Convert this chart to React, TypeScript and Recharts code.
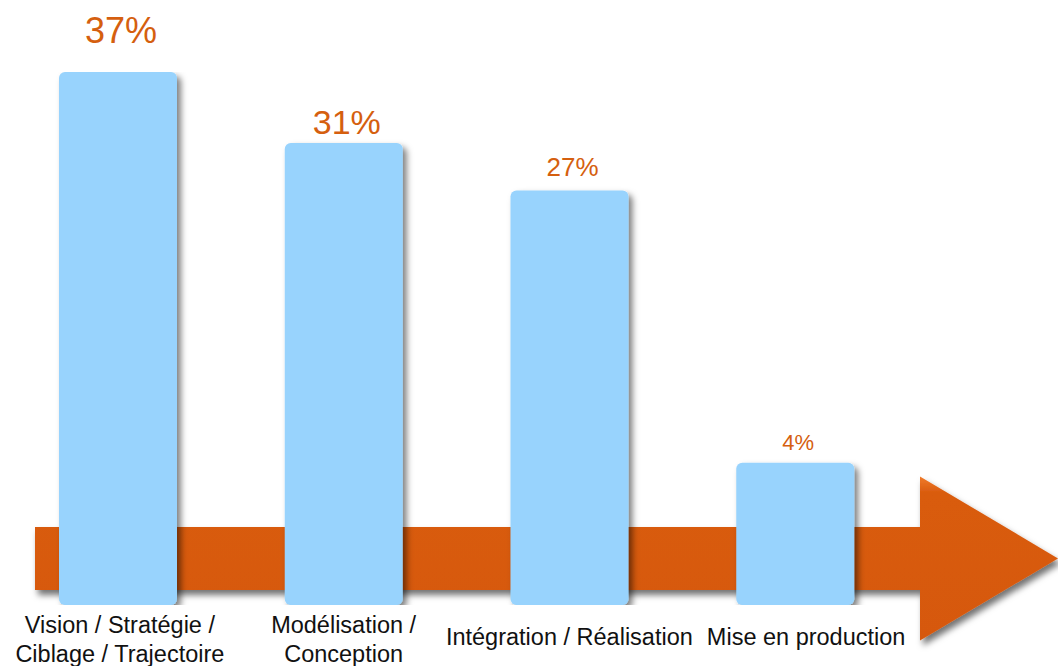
import { ComposedChart, Bar, XAxis, YAxis, LabelList, ReferenceArea, Rectangle } from "recharts";

// phases of the project, in order along the arrow
const categories = [
  "Vision / Stratégie /\nCiblage / Trajectoire",
  "Modélisation /\nConception",
  "Intégration / Réalisation",
  "Mise en production",
];
const shares = [37, 31, 27, 4];

// the bars in the picture start below zero, so the axis floor is negative
const AXIS_FLOOR = -8;
const AXIS_TOP = 37;
// arrow shaft band, in axis units
const ARROW_LOW = -6.73;
const ARROW_HIGH = -1.41;

// label look per bar (font size, gap above the bar)
const labelSizes = [36, 34, 26, 22];
const labelGaps = [29, 9, 14, 13];
// small horizontal nudge of the category labels
const tickShift = [2, 0, 0, 11];

const ORANGE = "#d55f0f";
const BLUE = "#98d3fd";
const FONT = "'Liberation Sans', Arial, sans-serif";

const data = categories.map((name, i) => ({ name, value: shares[i] }));

function ArrowShape(props: any) {
  const { x, y, width, height } = props;
  const mid = y + height / 2;
  const left = x + 30;
  const headX = x + width + 12;
  const tipX = x + width + 150;
  const half = 82;
  const pts = [
    [left, y],
    [headX, y],
    [headX, mid - half],
    [tipX, mid],
    [headX, mid + half],
    [headX, y + height],
    [left, y + height],
  ]
    .map((p) => p.join(","))
    .join(" ");
  return <polygon points={pts} fill="url(#arrowFill)" filter="url(#arrowShadow)" />;
}

function BarShape(props: any) {
  return <Rectangle {...props} fill={BLUE} radius={6} filter="url(#barShadow)" />;
}

function ValueLabel(props: any) {
  const { x, y, width, value, index } = props;
  return (
    <text
      x={x + width / 2 + 3}
      y={y - labelGaps[index]}
      textAnchor="middle"
      fontSize={labelSizes[index]}
      fontFamily={FONT}
      fill={ORANGE}
    >
      {value}%
    </text>
  );
}

function CategoryTick(props: any) {
  const { x, y, payload, index } = props;
  const lines = String(payload.value).split("\n");
  const lineH = 29;
  const first = lines.length === 1 ? 40 : 28;
  const cx = x + (tickShift[index] || 0);
  return (
    <text x={cx} y={y} textAnchor="middle" fontSize={23.5} fontFamily={FONT} fill="#111">
      {lines.map((l, i) => (
        <tspan key={i} x={cx} y={y + first + i * lineH}>
          {l}
        </tspan>
      ))}
    </text>
  );
}

export default function App() {
  return (
    <div style={{ position: "absolute", left: 0, top: 0, background: "#fff" }}>
      <ComposedChart
        width={1058}
        height={666}
        data={data}
        margin={{ top: 72, right: 150, left: 5, bottom: 0 }}
      >
        <defs>
          <linearGradient id="arrowFill" x1="0" y1="0" x2="0" y2="1">
            <stop offset="0%" stopColor="#f07b2b" />
            <stop offset="10%" stopColor="#d95b0e" />
            <stop offset="100%" stopColor="#d6590c" />
          </linearGradient>
          <filter id="arrowShadow" x="-5%" y="-20%" width="115%" height="150%">
            <feDropShadow dx="3" dy="5" stdDeviation="3" floodColor="#000" floodOpacity="0.55" />
          </filter>
          <filter id="barShadow" x="-10%" y="-10%" width="130%" height="130%">
            <feDropShadow dx="4" dy="4" stdDeviation="3" floodColor="#000" floodOpacity="0.5" />
          </filter>
        </defs>
        <XAxis
          dataKey="name"
          axisLine={false}
          tickLine={false}
          tickSize={0}
          tickMargin={0}
          height={61}
          interval={0}
          tick={<CategoryTick />}
        />
        <YAxis hide type="number" domain={[AXIS_FLOOR, AXIS_TOP]} allowDataOverflow />
        <ReferenceArea
          y1={ARROW_LOW}
          y2={ARROW_HIGH}
          ifOverflow="visible"
          shape={<ArrowShape />}
        />
        <Bar
          dataKey={(d: any) => [AXIS_FLOOR, d.value]}
          barSize={118}
          shape={<BarShape />}
          isAnimationActive={false}
        >
          <LabelList dataKey="value" content={<ValueLabel />} />
        </Bar>
      </ComposedChart>
    </div>
  );
}
